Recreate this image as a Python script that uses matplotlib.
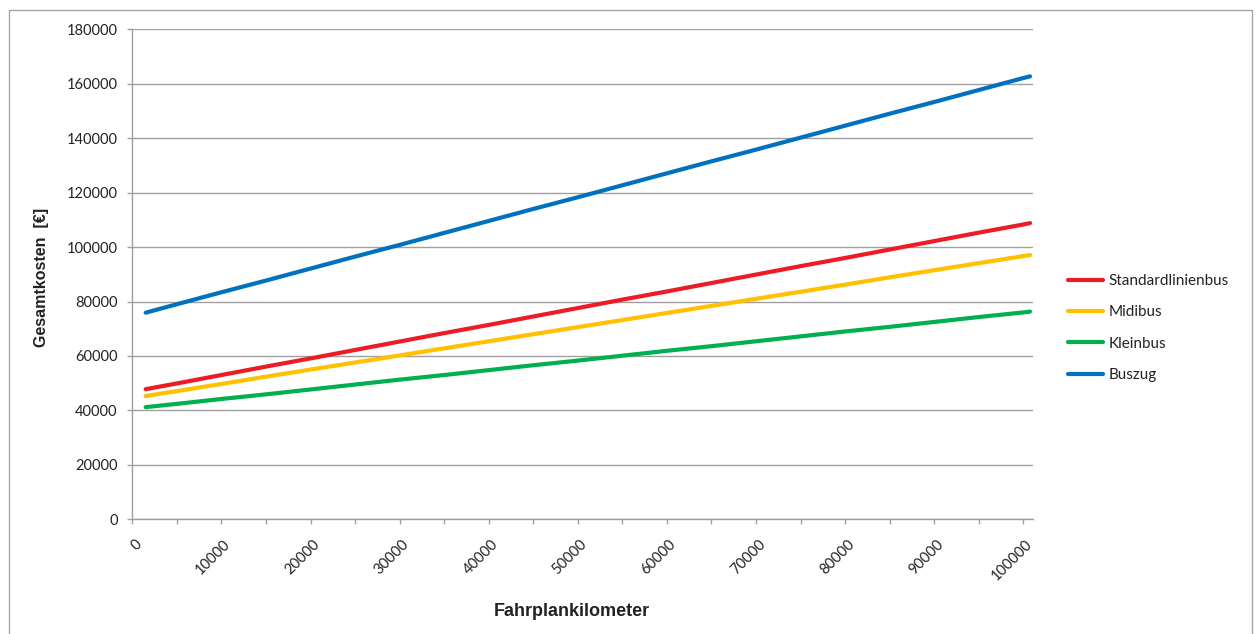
import matplotlib
matplotlib.use("Agg")
import matplotlib.pyplot as plt
from matplotlib.ticker import MultipleLocator
from matplotlib.patches import Rectangle
from matplotlib.transforms import ScaledTranslation

# Fahrplankilometer (km)
km = [1500, 5000, 10000, 15000, 20000, 25000, 30000, 35000, 40000, 45000, 50000,
      55000, 60000, 65000, 70000, 75000, 80000, 85000, 90000, 95000, 100000, 100750]

# Gesamtkosten (EUR) per vehicle type
standardlinienbus = [47800, 49900, 53000, 56100, 59100, 62200, 65300, 68400, 71400, 74500, 77600,
                     80700, 83700, 86800, 89900, 93000, 96000, 99100, 102200, 105300, 108300, 108800]
midibus = [45300, 47100, 49700, 52400, 55000, 57600, 60200, 62800, 65400, 68000, 70600,
           73200, 75800, 78400, 81000, 83600, 86200, 88900, 91500, 94100, 96700, 97100]
kleinbus = [41200, 42400, 44200, 45900, 47700, 49500, 51300, 53000, 54800, 56600, 58300,
            60100, 61900, 63600, 65400, 67200, 69000, 70700, 72500, 74300, 76000, 76300]
buszug = [75900, 79000, 83400, 87700, 92100, 96500, 100800, 105200, 109600, 114000, 118300,
          122700, 127100, 131500, 135800, 140200, 144600, 149000, 153300, 157700, 162100, 162700]

series_names = ["Standardlinienbus", "Midibus", "Kleinbus", "Buszug"]
series_values = [standardlinienbus, midibus, kleinbus, buszug]
series_colors = ["#ED1C24", "#FFC000", "#00B050", "#0070C0"]

x_ticks = [0, 10000, 20000, 30000, 40000, 50000, 60000, 70000, 80000, 90000, 100000]
x_labels = [str(v) for v in x_ticks]
y_ticks = [0, 20000, 40000, 60000, 80000, 100000, 120000, 140000, 160000, 180000]

W, H = 1256, 634
fig = plt.figure(figsize=(W / 100, H / 100), dpi=100)
fig.patch.set_facecolor("white")

# outer chart frame
fig.patches.append(Rectangle((9 / W, -0.05), (1252 - 9) / W, 1 - 10 / H + 0.05,
                             transform=fig.transFigure, fill=False,
                             edgecolor="#a6a6a6", linewidth=1.0))

ax = fig.add_axes([132.3 / W, (H - 519.3) / H, (1032.7 - 132.3) / W, 490 / H])

for name, vals, col in zip(series_names, series_values, series_colors):
    ax.plot(km, vals, color=col, linewidth=3.0, label=name,
            solid_capstyle="round", solid_joinstyle="round")

ax.set_xlim(0, 101050)
ax.set_ylim(0, 180000)

grid_col = "#a0a0a0"
ax.set_yticks(y_ticks)
ax.set_yticklabels([str(v) for v in y_ticks])
ax.yaxis.grid(True, color=grid_col, linewidth=1.0)
ax.set_axisbelow(True)

ax.xaxis.set_major_locator(MultipleLocator(10000))
ax.xaxis.set_minor_locator(MultipleLocator(5000))
ax.set_xticks(x_ticks)
ax.set_xticklabels(x_labels)

for s in ["top", "right"]:
    ax.spines[s].set_visible(False)
for s in ["left", "bottom"]:
    ax.spines[s].set_color(grid_col)
    ax.spines[s].set_linewidth(1.0)

tick_font = "Lato"
ax.tick_params(axis="y", which="major", direction="out", length=3.6, width=1.0,
               color=grid_col, pad=7, labelsize=10.5, labelcolor="#222222")
ax.tick_params(axis="x", which="both", direction="out", length=3.6, width=1.0,
               color=grid_col, pad=13, labelsize=10.5, labelcolor="#222222")
for lbl in ax.get_yticklabels():
    lbl.set_fontfamily(tick_font)
shift = ScaledTranslation(7 / 100, 0, fig.dpi_scale_trans)
for lbl in ax.get_xticklabels():
    lbl.set_fontfamily(tick_font)
    lbl.set_rotation(45)
    lbl.set_ha("right")
    lbl.set_va("center")
    lbl.set_rotation_mode("anchor")
    lbl.set_transform(lbl.get_transform() + shift)

fig.text(572 / W, 1 - 612 / H, "Fahrplankilometer", ha="center", va="center",
         fontsize=13, fontweight="bold", family="Liberation Sans", color="#222222")
fig.text(42 / W, 1 - 277 / H, "Gesamtkosten  [€]", ha="center", va="center",
         rotation=90, fontsize=11.5, fontweight="bold", family="Liberation Sans",
         color="#222222")

leg = fig.legend(loc="center left", bbox_to_anchor=(1068 / W, 1 - 328 / H),
                 frameon=False, prop={"family": tick_font, "size": 11},
                 handlelength=2.3, handletextpad=0.35, labelspacing=1.13,
                 borderpad=0, borderaxespad=0)
for t in leg.get_texts():
    t.set_color("#222222")

fig.savefig("out.png", dpi=100)
